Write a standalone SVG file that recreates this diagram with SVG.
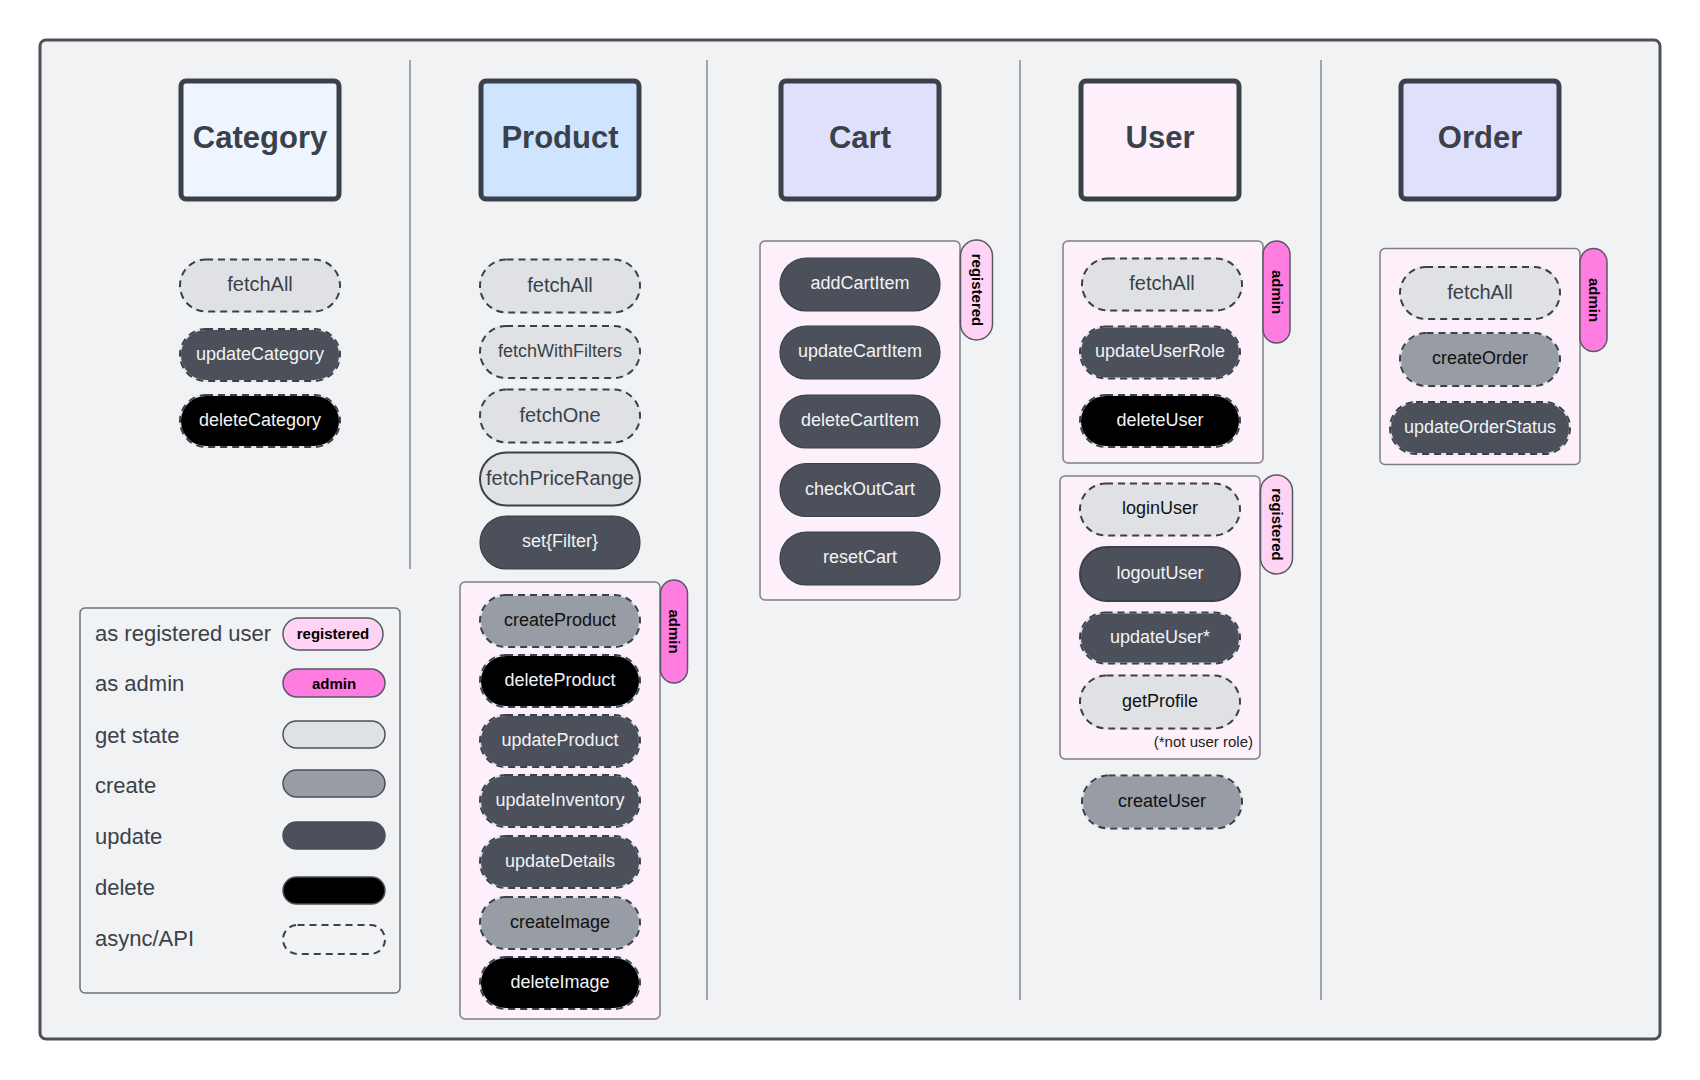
<svg xmlns="http://www.w3.org/2000/svg" width="1700" height="1080" viewBox="0 0 1700 1080">
<style>
text{font-family:"Liberation Sans",Arial,Helvetica,sans-serif}
.frame{fill:#f1f2f4;stroke:#4b5059;stroke-width:3}
.div{stroke:#868b92;stroke-width:1.5}
.hdr{stroke:#3b414a;stroke-width:5}
.ht{font-size:31px;font-weight:bold;fill:#3a414a;text-anchor:middle}
.grp{fill:#fdf0fa;stroke:#7b7f87;stroke-width:1.5}
.legend{fill:#f1f2f4;stroke:#6b7078;stroke-width:1.5}
.tagR{fill:#ffd3f3;stroke:#555a63;stroke-width:1.5}
.tagA{fill:#ff7de0;stroke:#555a63;stroke-width:1.5}
.tt{font-size:15px;font-weight:bold;fill:#000;text-anchor:middle}
.get{fill:#dfe1e5}
.cre{fill:#989ca5}
.upd{fill:#4b505a}
.del{fill:#000}
.edge{stroke:#e3e5e9;stroke-width:2}
.dash{fill:none;stroke:#3b414a;stroke-width:2;stroke-dasharray:7 5}
.solid{stroke:#3b414a;stroke-width:2}
.thin{stroke:#3b414a;stroke-width:1.2}
.sw{stroke:#4a4f58;stroke-width:1.5}
.t{font-size:18px;text-anchor:middle;transform:translateY(-1.5px)}
.tl{font-size:20px;text-anchor:middle;transform:translateY(-1.5px)}
.cd{fill:#3a414a}
.ck{fill:#111}
.cw{fill:#f2f3f5}
.lt{font-size:22px;fill:#3a414a}
.note{font-size:15px;fill:#222;text-anchor:end}
</style>

<rect class="frame" x="40" y="40" width="1620" height="999" rx="6"/>

<g id="connectors">
<line class="div" x1="410" y1="60" x2="410" y2="569"/>
<line class="div" x1="707" y1="60" x2="707" y2="1000"/>
<line class="div" x1="1020" y1="60" x2="1020" y2="1000"/>
<line class="div" x1="1321" y1="60" x2="1321" y2="1000"/>
</g>

<!-- headers -->
<g id="hdr-category"><rect class="hdr" x="181" y="81" width="158" height="118" rx="5" fill="#eef5ff"/><text class="ht" x="260" y="148">Category</text></g>
<g id="hdr-product"><rect class="hdr" x="481" y="81" width="158" height="118" rx="5" fill="#cfe4fe"/><text class="ht" x="560" y="148">Product</text></g>
<g id="hdr-cart"><rect class="hdr" x="781" y="81" width="158" height="118" rx="5" fill="#dfe0fb"/><text class="ht" x="860" y="148">Cart</text></g>
<g id="hdr-user"><rect class="hdr" x="1081" y="81" width="158" height="118" rx="5" fill="#fdf0fa"/><text class="ht" x="1160" y="148">User</text></g>
<g id="hdr-order"><rect class="hdr" x="1401" y="81" width="158" height="118" rx="5" fill="#dfe0fb"/><text class="ht" x="1480" y="148">Order</text></g>

<!-- Category column -->
<g id="cat-fetchAll"><rect class="get edge" x="180" y="259.5" width="160" height="52" rx="26"/><rect class="dash" x="180" y="259.5" width="160" height="52" rx="26"/><text class="tl cd" x="260" y="292.5">fetchAll</text></g>
<g id="cat-updateCategory"><rect class="upd edge" x="180" y="329" width="160" height="52" rx="26"/><rect class="dash" x="180" y="329" width="160" height="52" rx="26"/><text class="t cw" x="260" y="361.3">updateCategory</text></g>
<g id="cat-deleteCategory"><rect class="del edge" x="180" y="395" width="160" height="52" rx="26"/><rect class="dash" x="180" y="395" width="160" height="52" rx="26"/><text class="t cw" x="260" y="427.3">deleteCategory</text></g>

<!-- Product column -->
<g id="prod-fetchAll"><rect class="get edge" x="480" y="259.5" width="160" height="53" rx="26.5"/><rect class="dash" x="480" y="259.5" width="160" height="53" rx="26.5"/><text class="tl cd" x="560" y="293">fetchAll</text></g>
<g id="prod-fetchWithFilters"><rect class="get edge" x="480" y="326" width="160" height="52" rx="26"/><rect class="dash" x="480" y="326" width="160" height="52" rx="26"/><text class="t cd" x="560" y="358.3">fetchWithFilters</text></g>
<g id="prod-fetchOne"><rect class="get edge" x="480" y="389.5" width="160" height="53" rx="26.5"/><rect class="dash" x="480" y="389.5" width="160" height="53" rx="26.5"/><text class="tl cd" x="560" y="423">fetchOne</text></g>
<g id="prod-fetchPriceRange"><rect class="get solid" x="480" y="452.5" width="160" height="53" rx="26.5"/><text class="tl cd" x="560" y="486">fetchPriceRange</text></g>
<g id="prod-setFilter"><rect class="upd thin" x="480" y="516" width="160" height="53" rx="26.5"/><text class="t cw" x="560" y="548.8">set{Filter}</text></g>

<g id="prod-admin-group">
<rect class="grp" x="460" y="582" width="200" height="437" rx="5"/>
<rect class="tagA" x="660.5" y="580" width="27" height="103" rx="13.5"/>
<text class="tt" transform="translate(674,631.5) rotate(90)" y="5">admin</text>
</g>
<g id="prod-createProduct"><rect class="cre edge" x="480" y="595" width="160" height="52" rx="26"/><rect class="dash" x="480" y="595" width="160" height="52" rx="26"/><text class="t ck" x="560" y="627.3">createProduct</text></g>
<g id="prod-deleteProduct"><rect class="del edge" x="480" y="655" width="160" height="52" rx="26"/><rect class="dash" x="480" y="655" width="160" height="52" rx="26"/><text class="t cw" x="560" y="687.3">deleteProduct</text></g>
<g id="prod-updateProduct"><rect class="upd edge" x="480" y="715" width="160" height="52" rx="26"/><rect class="dash" x="480" y="715" width="160" height="52" rx="26"/><text class="t cw" x="560" y="747.3">updateProduct</text></g>
<g id="prod-updateInventory"><rect class="upd edge" x="480" y="775" width="160" height="52" rx="26"/><rect class="dash" x="480" y="775" width="160" height="52" rx="26"/><text class="t cw" x="560" y="807.3">updateInventory</text></g>
<g id="prod-updateDetails"><rect class="upd edge" x="480" y="836" width="160" height="52" rx="26"/><rect class="dash" x="480" y="836" width="160" height="52" rx="26"/><text class="t cw" x="560" y="868.3">updateDetails</text></g>
<g id="prod-createImage"><rect class="cre edge" x="480" y="897" width="160" height="52" rx="26"/><rect class="dash" x="480" y="897" width="160" height="52" rx="26"/><text class="t ck" x="560" y="929.3">createImage</text></g>
<g id="prod-deleteImage"><rect class="del edge" x="480" y="957" width="160" height="52" rx="26"/><rect class="dash" x="480" y="957" width="160" height="52" rx="26"/><text class="t cw" x="560" y="989.3">deleteImage</text></g>

<!-- Cart column -->
<g id="cart-registered-group">
<rect class="grp" x="760" y="241" width="200" height="359" rx="5"/>
<rect class="tagR" x="960.5" y="240" width="32" height="100" rx="16"/>
<text class="tt" transform="translate(976.5,290) rotate(90)" y="5">registered</text>
</g>
<g id="cart-addCartItem"><rect class="upd thin" x="780" y="258" width="160" height="53" rx="26.5"/><text class="t cw" x="860" y="290.8">addCartItem</text></g>
<g id="cart-updateCartItem"><rect class="upd thin" x="780" y="326" width="160" height="53" rx="26.5"/><text class="t cw" x="860" y="358.8">updateCartItem</text></g>
<g id="cart-deleteCartItem"><rect class="upd thin" x="780" y="395" width="160" height="53" rx="26.5"/><text class="t cw" x="860" y="427.8">deleteCartItem</text></g>
<g id="cart-checkOutCart"><rect class="upd thin" x="780" y="463.5" width="160" height="53" rx="26.5"/><text class="t cw" x="860" y="496.3">checkOutCart</text></g>
<g id="cart-resetCart"><rect class="upd thin" x="780" y="532" width="160" height="53" rx="26.5"/><text class="t cw" x="860" y="564.8">resetCart</text></g>

<!-- User column -->
<g id="user-admin-group">
<rect class="grp" x="1063" y="241" width="200" height="222" rx="5"/>
<rect class="tagA" x="1263" y="241" width="27" height="102" rx="13.5"/>
<text class="tt" transform="translate(1276.5,292) rotate(90)" y="5">admin</text>
</g>
<g id="user-fetchAll"><rect class="get edge" x="1082" y="258.5" width="160" height="52" rx="26"/><rect class="dash" x="1082" y="258.5" width="160" height="52" rx="26"/><text class="tl cd" x="1162" y="291.5">fetchAll</text></g>
<g id="user-updateUserRole"><rect class="upd edge" x="1080" y="326.5" width="160" height="52" rx="26"/><rect class="dash" x="1080" y="326.5" width="160" height="52" rx="26"/><text class="t cw" x="1160" y="358.8">updateUserRole</text></g>
<g id="user-deleteUser"><rect class="del edge" x="1080" y="395" width="160" height="52" rx="26"/><rect class="dash" x="1080" y="395" width="160" height="52" rx="26"/><text class="t cw" x="1160" y="427.3">deleteUser</text></g>

<g id="user-registered-group">
<rect class="grp" x="1060" y="476" width="200" height="283" rx="5"/>
<rect class="tagR" x="1260.5" y="475" width="32" height="99" rx="16"/>
<text class="tt" transform="translate(1276.5,524.5) rotate(90)" y="5">registered</text>
<text class="note" x="1253" y="747">(*not user role)</text>
</g>
<g id="user-loginUser"><rect class="get edge" x="1080" y="483.5" width="160" height="52" rx="26"/><rect class="dash" x="1080" y="483.5" width="160" height="52" rx="26"/><text class="t ck" x="1160" y="515.8">loginUser</text></g>
<g id="user-logoutUser"><rect class="upd solid" x="1080" y="547" width="160" height="54" rx="27"/><text class="t cw" x="1160" y="580.3">logoutUser</text></g>
<g id="user-updateUser"><rect class="upd edge" x="1080" y="612.5" width="160" height="51" rx="25.5"/><rect class="dash" x="1080" y="612.5" width="160" height="51" rx="25.5"/><text class="t cw" x="1160" y="644.3">updateUser*</text></g>
<g id="user-getProfile"><rect class="get edge" x="1080" y="675.5" width="160" height="53" rx="26.5"/><rect class="dash" x="1080" y="675.5" width="160" height="53" rx="26.5"/><text class="t ck" x="1160" y="708.3">getProfile</text></g>
<g id="user-createUser"><rect class="cre edge" x="1082" y="775.5" width="160" height="53" rx="26.5"/><rect class="dash" x="1082" y="775.5" width="160" height="53" rx="26.5"/><text class="t ck" x="1162" y="808.3">createUser</text></g>

<!-- Order column -->
<g id="order-admin-group">
<rect class="grp" x="1380" y="248.5" width="200" height="216" rx="5"/>
<rect class="tagA" x="1580" y="248.5" width="27" height="103" rx="13.5"/>
<text class="tt" transform="translate(1593.5,300) rotate(90)" y="5">admin</text>
</g>
<g id="order-fetchAll"><rect class="get edge" x="1400" y="267" width="160" height="52" rx="26"/><rect class="dash" x="1400" y="267" width="160" height="52" rx="26"/><text class="tl cd" x="1480" y="300">fetchAll</text></g>
<g id="order-createOrder"><rect class="cre edge" x="1400" y="333" width="160" height="53" rx="26.5"/><rect class="dash" x="1400" y="333" width="160" height="53" rx="26.5"/><text class="t ck" x="1480" y="365.8">createOrder</text></g>
<g id="order-updateOrderStatus"><rect class="upd edge" x="1390" y="402" width="180" height="52" rx="26"/><rect class="dash" x="1390" y="402" width="180" height="52" rx="26"/><text class="t cw" x="1480" y="434.3">updateOrderStatus</text></g>

<!-- Legend -->
<g id="legend">
<rect class="legend" x="80" y="608" width="320" height="385" rx="5"/>
<text class="lt" x="95" y="641">as registered user</text>
<rect class="tagR" x="283" y="618" width="100" height="32" rx="16"/>
<text class="tt" x="333" y="639">registered</text>
<text class="lt" x="95" y="691">as admin</text>
<rect class="tagA" x="283" y="669" width="102" height="28" rx="14"/>
<text class="tt" x="334" y="688.5">admin</text>
<text class="lt" x="95" y="743">get state</text>
<rect class="get sw" x="283" y="721" width="102" height="27" rx="13.5"/>
<text class="lt" x="95" y="793">create</text>
<rect class="cre sw" x="283" y="770" width="102" height="27" rx="13.5"/>
<text class="lt" x="95" y="844">update</text>
<rect class="upd sw" x="283" y="822" width="102" height="27" rx="13.5"/>
<text class="lt" x="95" y="895">delete</text>
<rect class="del sw" x="283" y="877" width="102" height="27" rx="13.5"/>
<text class="lt" x="95" y="946">async/API</text>
<rect class="dash" x="283" y="925" width="102" height="29" rx="14.5"/>
</g>
</svg>
